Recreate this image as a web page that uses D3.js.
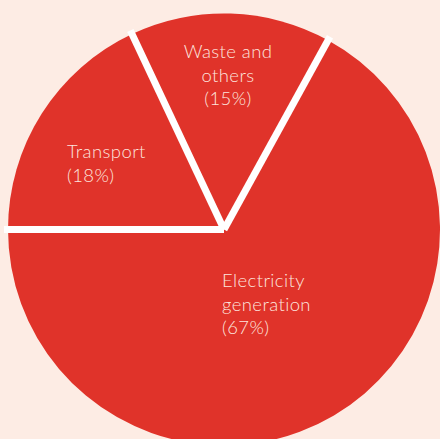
<!DOCTYPE html>
<html>
<head>
<meta charset="utf-8">
<script src="https://cdn.jsdelivr.net/npm/d3@7"></script>
<style>
  html, body { margin: 0; padding: 0; background: #fdece4; overflow: hidden; }
  #chart { width: 440px; height: 439px; }
</style>
</head>
<body>
<div id="chart"></div>
<script>
  // ── Dados ──
  const categorias = ['Transport', 'Waste and others', 'Electricity generation'];
  const valores = [18, 15, 67];
  const rotulos = [
    ['Transport', '(18%)'],
    ['Waste and', 'others', '(15%)'],
    ['Electricity', 'generation', '(67%)']
  ];

  // ── Cores ──
  const CORES = {
    fundo: '#fdece4',
    fatia: '#e0332a',
    separador: '#ffffff',
    texto: '#fde4de'
  };

  const largura = 440, altura = 439;
  const cx = 224, cy = 229.5, raio = 216;

  const svg = d3.select('#chart').append('svg')
    .attr('width', largura)
    .attr('height', altura)
    .style('background', CORES.fundo);

  const g = svg.append('g').attr('transform', `translate(${cx},${cy})`);

  const dados = categorias.map((c, i) => ({ nome: c, valor: valores[i], linhas: rotulos[i] }));

  const pie = d3.pie()
    .sort(null)
    .value(d => d.valor)
    .startAngle(-Math.PI / 2)
    .endAngle(1.5 * Math.PI);

  const arc = d3.arc().innerRadius(0).outerRadius(raio);

  const arcos = pie(dados);

  g.selectAll('path.fatia')
    .data(arcos)
    .enter()
    .append('path')
    .attr('class', 'fatia')
    .attr('d', arc)
    .style('fill', CORES.fatia);

  // separadores brancos
  g.selectAll('line.sep')
    .data(arcos)
    .enter()
    .append('line')
    .attr('class', 'sep')
    .attr('x1', 0).attr('y1', 0)
    .attr('x2', d => Math.sin(d.startAngle) * (raio + 4))
    .attr('y2', d => -Math.cos(d.startAngle) * (raio + 4))
    .style('stroke', CORES.separador)
    .style('stroke-width', 7)
    .style('stroke-linecap', 'butt');

  // ── Rótulos (posição relativa ao centro) ──
  const layoutRotulo = {
    'Transport': { x: -157, y: -71.5, anchor: 'start' },
    'Waste and others': { x: 4, y: -171.5, anchor: 'middle' },
    'Electricity generation': { x: -2, y: 57.5, anchor: 'start' }
  };

  arcos.forEach(a => {
    const L = layoutRotulo[a.data.nome];
    const t = g.append('text')
      .attr('x', L.x)
      .attr('y', L.y)
      .attr('text-anchor', L.anchor)
      .style('fill', CORES.texto)
      .style('font-family', "Lato, 'Open Sans', sans-serif")
      .style('font-weight', 300)
      .style('font-size', '18.5px')
      .style('letter-spacing', '0.4px');
    a.data.linhas.forEach((linha, i) => {
      t.append('tspan')
        .attr('x', L.x)
        .attr('dy', i === 0 ? 0 : 23.5)
        .text(linha);
    });
  });
</script>
</body>
</html>
